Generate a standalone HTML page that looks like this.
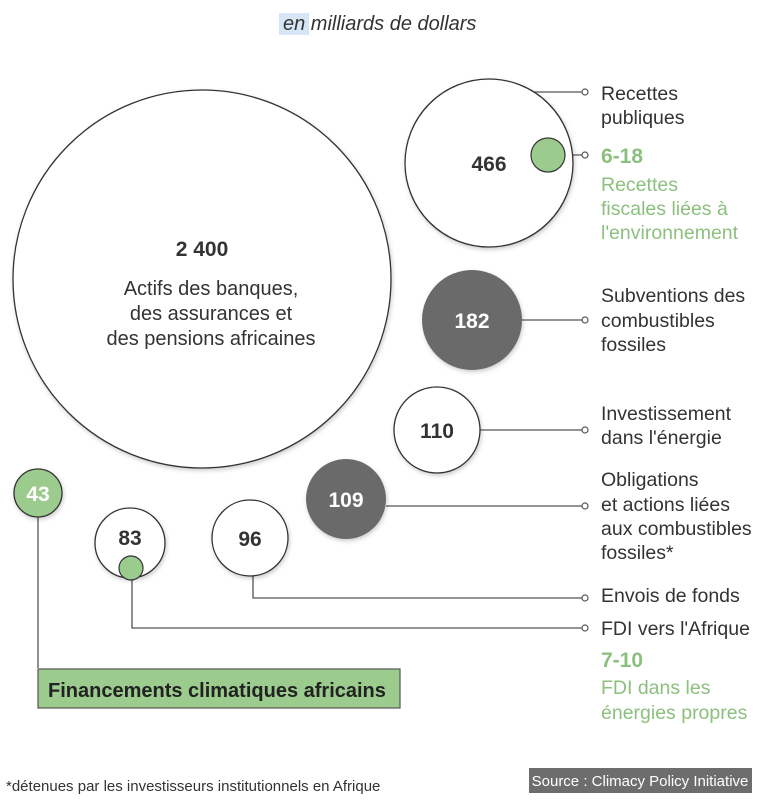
<!DOCTYPE html>
<html><head><meta charset="utf-8"><style>
html,body{margin:0;padding:0;background:#fff}
svg{display:block}
text{font-family:"Liberation Sans","DejaVu Sans",sans-serif}
.l{font-size:19.5px;fill:#333}
.g{font-size:19.5px;fill:#8cc07f}
.n{font-size:21px;font-weight:bold;fill:#333;text-anchor:middle}
.w{font-size:21px;font-weight:bold;fill:#fff;text-anchor:middle}
</style></head><body>
<svg width="768" height="801" viewBox="0 0 768 801" xmlns="http://www.w3.org/2000/svg">
<defs><filter id="s" x="-20%" y="-20%" width="140%" height="140%"><feDropShadow dx="1" dy="2" stdDeviation="2" flood-opacity="0.2"/></filter></defs>
<rect x="279" y="13" width="30" height="22" fill="#d6e6f7"/>
<text x="283" y="30" font-size="20" font-style="italic" fill="#333">en milliards de dollars</text>
<g stroke="#555" stroke-width="1.3" fill="none">
<path d="M534 92 H582"/><path d="M565 155 H582"/><path d="M522 320 H582"/><path d="M480 430 H582"/>
<path d="M386 506 H582"/><path d="M253 576 V598 H582"/><path d="M132 580 V628 H582"/><path d="M38 517 V668"/>
</g>
<g fill="#fff" stroke="#555" stroke-width="1.2">
<circle cx="585" cy="92" r="3"/><circle cx="585" cy="155" r="3"/><circle cx="585" cy="320" r="3"/><circle cx="585" cy="430" r="3"/>
<circle cx="585" cy="506" r="3"/><circle cx="585" cy="598" r="3"/><circle cx="585" cy="628" r="3"/>
</g>
<g stroke="#333" stroke-width="1.3" filter="url(#s)">
<circle cx="202" cy="279" r="189" fill="#fff"/>
<circle cx="489" cy="163" r="84" fill="#fff"/>
<circle cx="472" cy="320" r="50" fill="#6b6b6b" stroke="none"/>
<circle cx="437" cy="430" r="43" fill="#fff"/>
<circle cx="346" cy="499" r="40" fill="#6b6b6b" stroke="none"/>
<circle cx="38" cy="493" r="24" fill="#9ccb8e"/>
<circle cx="130" cy="543" r="35" fill="#fff"/>
<circle cx="250" cy="538" r="38" fill="#fff"/>
</g>
<circle cx="548" cy="155" r="17" fill="#9ccb8e" stroke="#333" stroke-width="1.2"/>
<circle cx="131" cy="568" r="12" fill="#9ccb8e" stroke="#333" stroke-width="1.2"/>
<text class="n" x="202" y="256">2 400</text>
<text x="211" y="295" font-size="20" fill="#333" text-anchor="middle">Actifs des banques,</text>
<text x="211" y="320" font-size="20" fill="#333" text-anchor="middle">des assurances et</text>
<text x="211" y="345" font-size="20" fill="#333" text-anchor="middle">des pensions africaines</text>
<text class="n" x="489" y="171">466</text>
<text class="w" x="472" y="328">182</text>
<text class="n" x="437" y="438">110</text>
<text class="w" x="346" y="507">109</text>
<text class="w" x="38" y="501">43</text>
<text class="n" x="130" y="545">83</text>
<text class="n" x="250" y="546">96</text>
<text class="l" x="601" y="100">Recettes</text><text class="l" x="601" y="124">publiques</text>
<text x="601" y="163" font-size="21" font-weight="bold" fill="#8cc07f">6-18</text>
<text class="g" x="601" y="191">Recettes</text><text class="g" x="601" y="215">fiscales liées à</text><text class="g" x="601" y="239">l'environnement</text>
<text class="l" x="601" y="302">Subventions des</text><text class="l" x="601" y="327">combustibles</text><text class="l" x="601" y="351">fossiles</text>
<text class="l" x="601" y="420">Investissement</text><text class="l" x="601" y="444">dans l'énergie</text>
<text class="l" x="601" y="486">Obligations</text><text class="l" x="601" y="511">et actions liées</text><text class="l" x="601" y="535">aux combustibles</text><text class="l" x="601" y="559">fossiles*</text>
<text class="l" x="601" y="602">Envois de fonds</text>
<text class="l" x="601" y="635">FDI vers l'Afrique</text>
<text x="601" y="667" font-size="21" font-weight="bold" fill="#8cc07f">7-10</text>
<text class="g" x="601" y="694">FDI dans les</text><text class="g" x="601" y="719">énergies propres</text>
<rect x="38" y="669" width="362" height="39" fill="#9ccb8e" stroke="#555" stroke-width="1.2"/>
<text x="48" y="697" font-size="20" font-weight="bold" fill="#222">Financements climatiques africains</text>
<text x="6" y="791" font-size="15" fill="#333">*détenues par les investisseurs institutionnels en Afrique</text>
<rect x="529" y="768" width="223" height="25" fill="#6d6d6d"/>
<text x="640" y="786" font-size="15" fill="#fff" text-anchor="middle">Source : Climacy Policy Initiative</text>
</svg>
</body></html>
